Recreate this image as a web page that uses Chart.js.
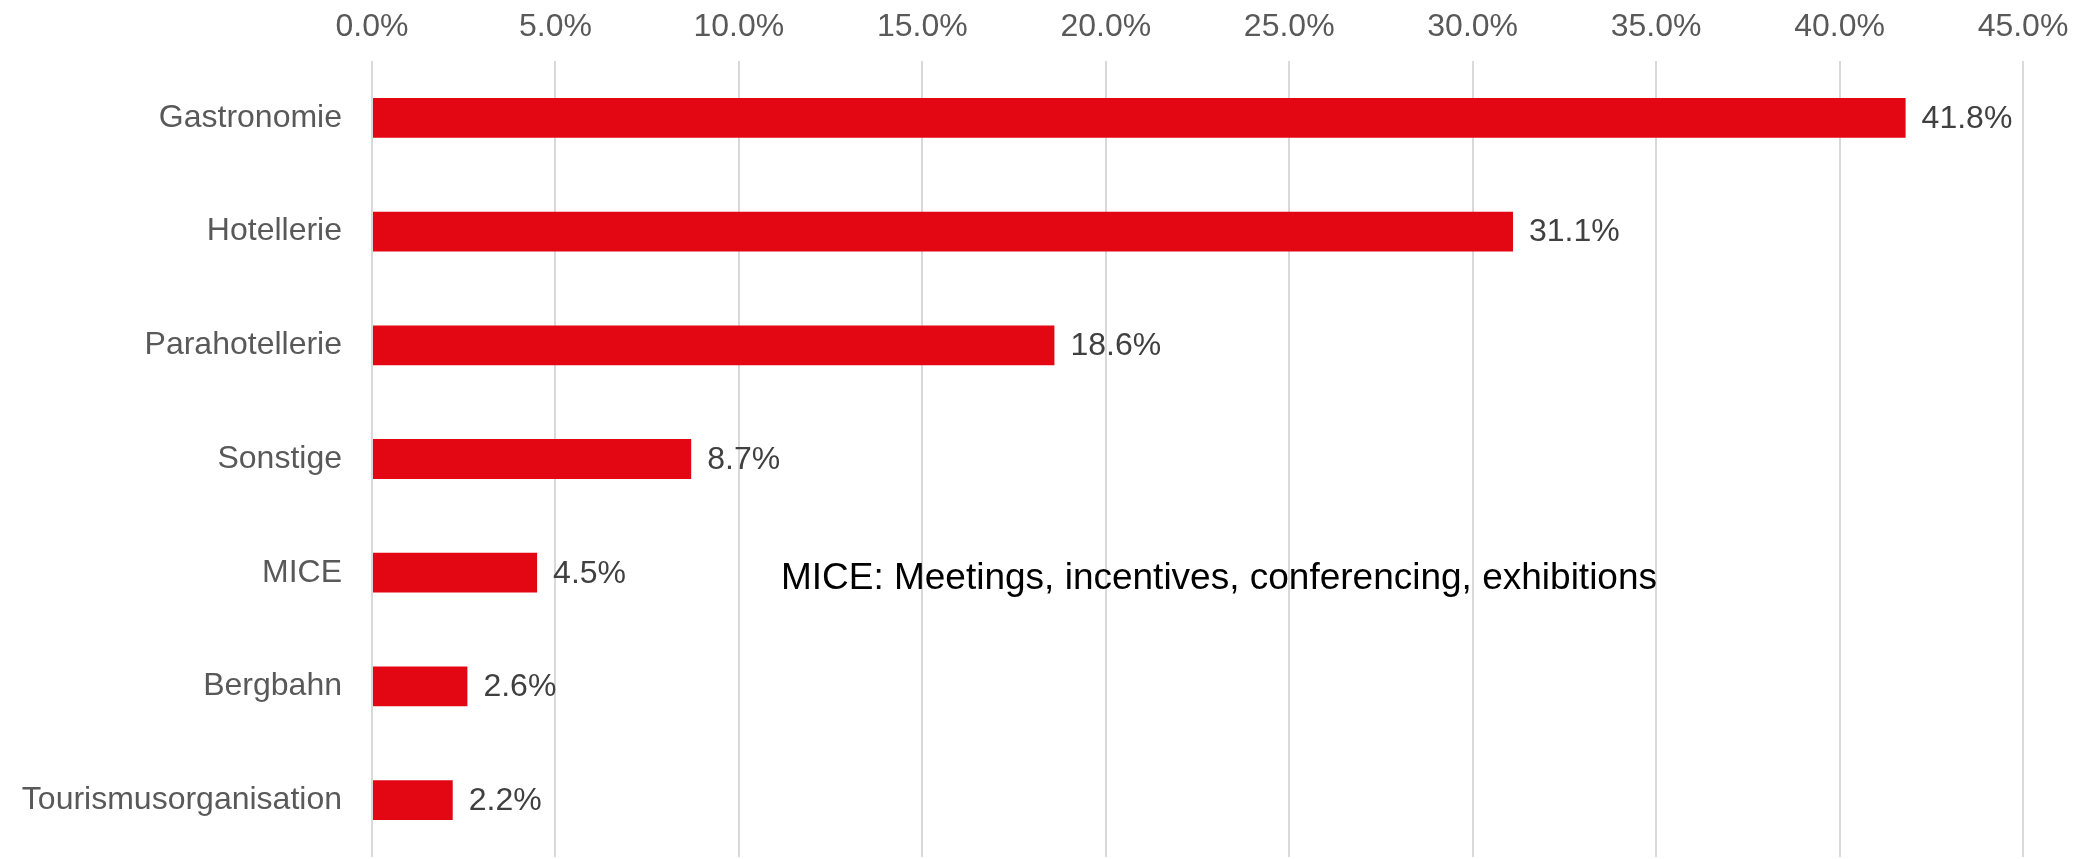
<!DOCTYPE html>
<html>
<head>
<meta charset="utf-8">
<script src="https://cdn.jsdelivr.net/npm/chart.js@4"></script>
<style>
  html, body { margin: 0; padding: 0; background: #fff; overflow: hidden; }
  canvas { display: block; }
</style>
</head>
<body>
<canvas id="chart" width="2088" height="859"></canvas>
<script>
// Daten
const categories = ['Gastronomie', 'Hotellerie', 'Parahotellerie', 'Sonstige', 'MICE', 'Bergbahn', 'Tourismusorganisation'];
const shares = [41.8, 31.1, 18.6, 8.7, 4.5, 2.6, 2.2];
const tickMax = 45;
const tickStep = 5;
const noteText = 'MICE: Meetings, incentives, conferencing, exhibitions';
const noteAt = { x: 11.2, y: 'MICE' };

const fontFamily = '"Liberation Sans", Arial, sans-serif';

// Werte rechts neben den Balken + Anmerkung
const valueLabels = {
  id: 'valueLabels',
  afterDatasetsDraw(chart) {
    const ctx = chart.ctx;
    const meta = chart.getDatasetMeta(0);
    ctx.save();
    ctx.font = '32px ' + fontFamily;
    ctx.fillStyle = '#404040';
    ctx.textAlign = 'left';
    ctx.textBaseline = 'middle';
    meta.data.forEach((bar, i) => {
      ctx.fillText(shares[i].toFixed(1) + '%', bar.x + 16, bar.y + 1);
    });
    const x = chart.scales.x.getPixelForValue(noteAt.x);
    const y = chart.scales.y.getPixelForValue(categories.indexOf(noteAt.y));
    ctx.font = '37px ' + fontFamily;
    ctx.fillStyle = '#000';
    ctx.fillText(noteText, x - 2, y + 6);
    ctx.restore();
  }
};

const ctx = document.getElementById('chart').getContext('2d');
const chart = new Chart(ctx, {
  type: 'bar',
  data: {
    labels: categories,
    datasets: [{
      data: shares,
      backgroundColor: '#E30613',
      borderWidth: 0,
      barPercentage: 0.35,
      categoryPercentage: 1
    }]
  },
  plugins: [valueLabels],
  options: {
    indexAxis: 'y',
    responsive: false,
    animation: false,
    layout: { padding: { top: 0, right: 65, bottom: 2, left: 0 } },
    plugins: {
      legend: { display: false },
      tooltip: { enabled: false }
    },
    scales: {
      x: {
        position: 'top',
        min: 0,
        max: tickMax,
        afterFit(scale) { scale.height = 61; },
        ticks: {
          stepSize: tickStep,
          padding: 15,
          color: '#595959',
          font: { family: fontFamily, size: 32 },
          callback: v => v.toFixed(1) + '%'
        },
        grid: { color: '#d9d9d9', lineWidth: 2, drawTicks: false },
        border: { display: false }
      },
      y: {
        afterFit(scale) {
          scale.width = 372;
          scale.paddingTop = 0;
          scale.paddingBottom = 0;
        },
        ticks: {
          padding: 30,
          color: '#595959',
          font: { family: fontFamily, size: 32 }
        },
        grid: { display: false, drawTicks: false },
        border: { display: false }
      }
    }
  }
});
</script>
</body>
</html>
